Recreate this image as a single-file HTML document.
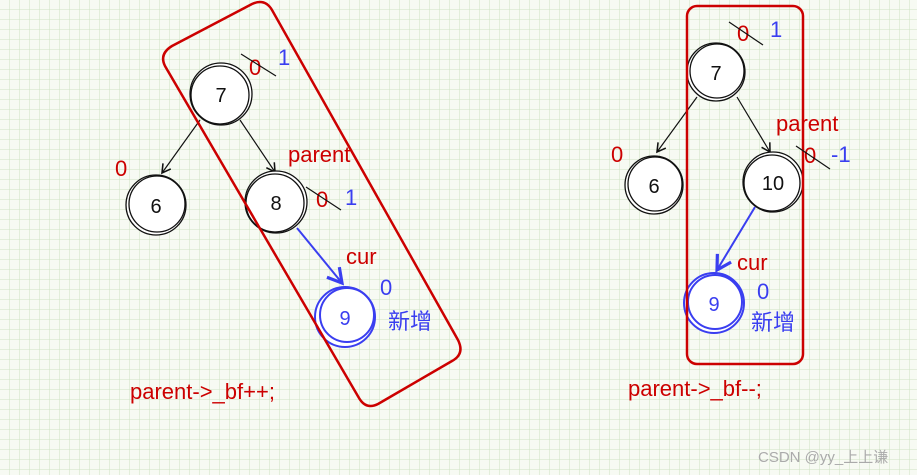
<!DOCTYPE html>
<html><head><style>
html,body{margin:0;padding:0;width:917px;height:475px;overflow:hidden;background:#f7faf3}
</style></head><body>
<svg width="917" height="475" xmlns="http://www.w3.org/2000/svg" font-family="'Liberation Sans','Noto Sans CJK SC',sans-serif">
<defs>
<pattern id="g" width="10" height="10" patternUnits="userSpaceOnUse">
<path d="M10 0V10H0" fill="none" stroke="#cfe3c3" stroke-width="1"/>
</pattern>
<marker id="ak" markerWidth="10" markerHeight="10" refX="8" refY="5" orient="auto"><path d="M1 1L8 5L1 9" fill="none" stroke="#111" stroke-width="1.3"/></marker>
<marker id="ab" markerWidth="10" markerHeight="10" refX="8" refY="5" orient="auto"><path d="M1 1L8 5L1 9" fill="none" stroke="#3a3ef0" stroke-width="1.6"/></marker>
</defs>
<rect width="917" height="475" fill="url(#g)"/>
<g fill="none" stroke="#111" stroke-width="1.2">
<line x1="200" y1="120" x2="162" y2="173" marker-end="url(#ak)"/>
<line x1="240" y1="120" x2="275" y2="172" marker-end="url(#ak)"/>
<line x1="697" y1="97" x2="657" y2="152" marker-end="url(#ak)"/>
<line x1="737" y1="97" x2="770" y2="152" marker-end="url(#ak)"/>
</g>
<g stroke="#3a3ef0" stroke-width="2" fill="none">
<line x1="297" y1="228" x2="342" y2="283" marker-end="url(#ab)"/>
<line x1="755" y1="207" x2="717" y2="270" marker-end="url(#ab)"/>
</g>
<g fill="#fff" stroke="#111" stroke-width="1.3">
<circle cx="221" cy="94" r="31"/><circle cx="220" cy="95" r="29" fill="none"/>
<circle cx="156" cy="205" r="30"/><circle cx="157" cy="204" r="28" fill="none"/>
<circle cx="276" cy="202" r="31"/><circle cx="275" cy="203" r="29" fill="none"/>
<circle cx="716" cy="72" r="29"/><circle cx="717" cy="71" r="27" fill="none"/>
<circle cx="654" cy="185" r="29"/><circle cx="655" cy="184" r="27" fill="none"/>
<circle cx="773" cy="182" r="30"/><circle cx="772" cy="183" r="28" fill="none"/>
</g>
<g fill="#fff" stroke="#3a3ef0" stroke-width="2">
<circle cx="345" cy="317" r="30"/><circle cx="347" cy="315" r="27" fill="none"/>
<circle cx="714" cy="303" r="30"/><circle cx="715" cy="302" r="27" fill="none"/>
</g>
<g fill="none" stroke="#cc0000" stroke-width="2.5">
<path d="M172 46 L252 4 Q265 -2 272 10 L458 340 Q465 354 452 361 L378 404 Q366 410 359 398 L165 66 Q159 54 172 46Z"/>
<rect x="687" y="6" width="116" height="358" rx="10"/>
</g>
<g font-size="20" fill="#111" text-anchor="middle">
<text x="221" y="102">7</text><text x="156" y="213">6</text><text x="276" y="210">8</text>
<text x="716" y="80">7</text><text x="654" y="193">6</text><text x="773" y="190">10</text>
</g>
<g font-size="20" fill="#3a3ef0" text-anchor="middle"><text x="345" y="325">9</text><text x="714" y="311">9</text></g>
<g fill="#cc0000" font-size="22">
<text x="249" y="75">0</text><text x="115" y="176">0</text><text x="316" y="207">0</text>
<text x="288" y="162">parent</text><text x="346" y="264">cur</text>
<text x="130" y="399">parent-&gt;_bf++;</text>
<text x="737" y="41">0</text><text x="611" y="162">0</text><text x="804" y="163">0</text>
<text x="776" y="131">parent</text><text x="737" y="270">cur</text>
<text x="628" y="396">parent-&gt;_bf--;</text>
</g>
<g stroke="#111" stroke-width="1.2">
<line x1="241" y1="54" x2="276" y2="76"/><line x1="306" y1="187" x2="341" y2="210"/>
<line x1="729" y1="22" x2="763" y2="45"/><line x1="796" y1="146" x2="830" y2="169"/>
</g>
<g fill="#3a3ef0" font-size="22">
<text x="278" y="65">1</text><text x="345" y="205">1</text><text x="380" y="295">0</text>
<text x="388" y="329">新增</text>
<text x="770" y="37">1</text><text x="831" y="162">-1</text><text x="757" y="299">0</text>
<text x="751" y="330">新增</text>
</g>
<text x="758" y="462" font-size="15" fill="#aaa">CSDN @yy_上上谦</text>
</svg>
</body></html>
